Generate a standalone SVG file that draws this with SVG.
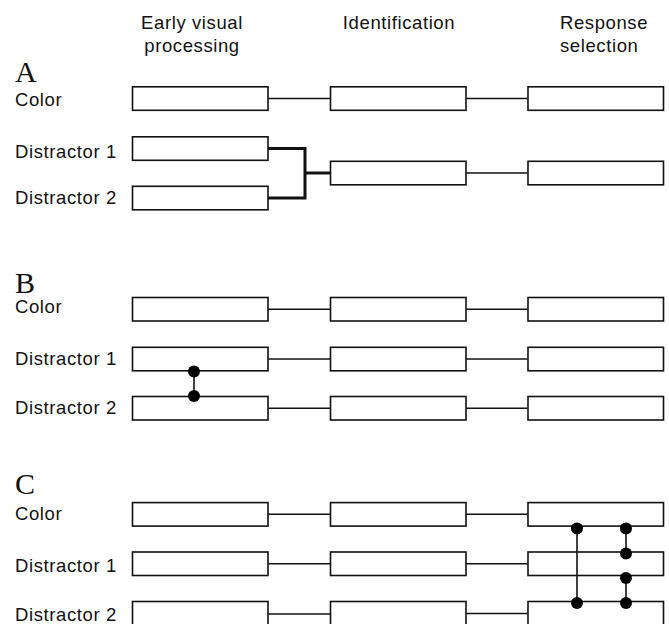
<svg xmlns="http://www.w3.org/2000/svg" width="669" height="624" viewBox="0 0 669 624">
<style>
.bg{fill:#fff}
.box{fill:#fff;stroke:#111;stroke-width:1.6}
.lbl{font-family:"Liberation Sans",Arial,sans-serif;font-size:18.5px;letter-spacing:0.6px;fill:#111}
.hdr{font-family:"Liberation Sans",Arial,sans-serif;font-size:18.5px;letter-spacing:0.6px;fill:#111}
.pan{font-family:"Liberation Serif","Times New Roman",serif;font-size:30px;fill:#111}
.ln{stroke:#111;stroke-width:1.6;fill:none}
.thick{stroke:#111;stroke-width:3;fill:none}
.dot{fill:#000}
</style>
<rect class="bg" x="0" y="0" width="669" height="624"/>
<g id="headers">
<text class="hdr" x="192" y="29" text-anchor="middle">Early visual</text>
<text class="hdr" x="192" y="52" text-anchor="middle">processing</text>
<text class="hdr" x="399" y="28.5" text-anchor="middle">Identification</text>
<text class="hdr" x="560" y="29" text-anchor="start">Response</text>
<text class="hdr" x="560" y="52" text-anchor="start">selection</text>
</g>
<g id="panel-labels">
<text class="pan" x="15" y="82">A</text>
<text class="pan" x="15" y="293">B</text>
<text class="pan" x="15" y="493.5">C</text>
</g>
<g id="row-labels">
<text class="lbl" x="15" y="106">Color</text>
<text class="lbl" x="15" y="157.5">Distractor 1</text>
<text class="lbl" x="15" y="204">Distractor 2</text>
<text class="lbl" x="15" y="313">Color</text>
<text class="lbl" x="15" y="365">Distractor 1</text>
<text class="lbl" x="15" y="413.5">Distractor 2</text>
<text class="lbl" x="15" y="520">Color</text>
<text class="lbl" x="15" y="571.5">Distractor 1</text>
<text class="lbl" x="15" y="620.5">Distractor 2</text>
</g>
<g id="connectors">
<!-- A -->
<line class="ln" x1="268" y1="98.5" x2="330" y2="98.5"/>
<line class="ln" x1="466" y1="98.5" x2="527.5" y2="98.5"/>
<polyline class="thick" points="268,148.5 305,148.5 305,198 268,198"/>
<line class="thick" x1="305" y1="173" x2="330" y2="173"/>
<line class="ln" x1="466" y1="173" x2="527.5" y2="173"/>
<!-- B -->
<line class="ln" x1="268" y1="309.2" x2="330" y2="309.2"/>
<line class="ln" x1="466" y1="309.2" x2="527.5" y2="309.2"/>
<line class="ln" x1="268" y1="359" x2="330" y2="359"/>
<line class="ln" x1="466" y1="359" x2="527.5" y2="359"/>
<line class="ln" x1="268" y1="408.3" x2="330" y2="408.3"/>
<line class="ln" x1="466" y1="408.3" x2="527.5" y2="408.3"/>
<!-- C -->
<line class="ln" x1="268" y1="514.3" x2="330" y2="514.3"/>
<line class="ln" x1="466" y1="514.3" x2="527.5" y2="514.3"/>
<line class="ln" x1="268" y1="563.7" x2="330" y2="563.7"/>
<line class="ln" x1="466" y1="563.7" x2="527.5" y2="563.7"/>
<line class="ln" x1="268" y1="614" x2="330" y2="614"/>
<line class="ln" x1="466" y1="613.5" x2="527.5" y2="613.5"/>
</g>
<g id="boxes-A">
<rect class="box" x="132.5" y="86.8" width="135.5" height="23.5"/>
<rect class="box" x="330.5" y="86.8" width="135.5" height="23.5"/>
<rect class="box" x="528" y="86.8" width="135.5" height="23.5"/>
<rect class="box" x="132.5" y="136.8" width="135.5" height="23.5"/>
<rect class="box" x="132.5" y="186.3" width="135.5" height="23.5"/>
<rect class="box" x="330.5" y="161.3" width="135.5" height="23.5"/>
<rect class="box" x="528" y="161.3" width="135.5" height="23.5"/>
</g>
<g id="boxes-B">
<rect class="box" x="132.5" y="297.5" width="135.5" height="23.5"/>
<rect class="box" x="330.5" y="297.5" width="135.5" height="23.5"/>
<rect class="box" x="528" y="297.5" width="135.5" height="23.5"/>
<rect class="box" x="132.5" y="347.3" width="135.5" height="23.5"/>
<rect class="box" x="330.5" y="347.3" width="135.5" height="23.5"/>
<rect class="box" x="528" y="347.3" width="135.5" height="23.5"/>
<rect class="box" x="132.5" y="396.5" width="135.5" height="23.5"/>
<rect class="box" x="330.5" y="396.5" width="135.5" height="23.5"/>
<rect class="box" x="528" y="396.5" width="135.5" height="23.5"/>
</g>
<g id="boxes-C">
<rect class="box" x="132.5" y="502.6" width="135.5" height="23.5"/>
<rect class="box" x="330.5" y="502.6" width="135.5" height="23.5"/>
<rect class="box" x="528" y="502.6" width="135.5" height="23.5"/>
<rect class="box" x="132.5" y="552" width="135.5" height="23.5"/>
<rect class="box" x="330.5" y="552" width="135.5" height="23.5"/>
<rect class="box" x="528" y="552" width="135.5" height="23.5"/>
<rect class="box" x="132.5" y="601.5" width="135.5" height="23.5"/>
<rect class="box" x="330.5" y="601.5" width="135.5" height="23.5"/>
<rect class="box" x="528" y="601.5" width="135.5" height="23.5"/>
</g>
<g id="links-B">
<line class="ln" x1="194" y1="371.5" x2="194" y2="396"/>
<circle class="dot" cx="194" cy="371.5" r="6"/>
<circle class="dot" cx="194" cy="396" r="6"/>
</g>
<g id="links-C">
<line class="ln" x1="577" y1="528.5" x2="577" y2="603"/>
<line class="ln" x1="626" y1="528.5" x2="626" y2="553.5"/>
<line class="ln" x1="626" y1="578" x2="626" y2="603"/>
<circle class="dot" cx="577" cy="528.5" r="6"/>
<circle class="dot" cx="577" cy="603" r="6"/>
<circle class="dot" cx="626" cy="528.5" r="6"/>
<circle class="dot" cx="626" cy="553.5" r="6"/>
<circle class="dot" cx="626" cy="578" r="6"/>
<circle class="dot" cx="626" cy="603" r="6"/>
</g>
</svg>
